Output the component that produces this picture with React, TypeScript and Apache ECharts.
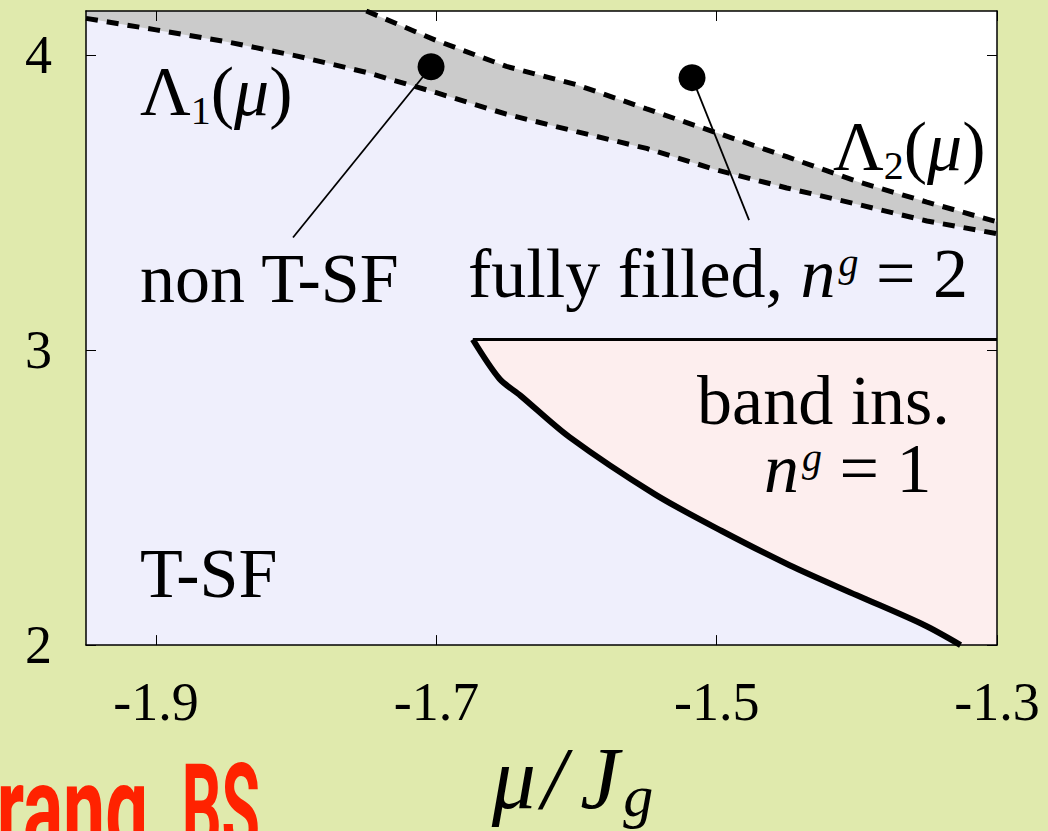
import React, { useEffect, useRef } from 'react';
import * as echarts from 'echarts';

// axis extents and ticks
const MU_MIN = -1.95;
const MU_MAX = -1.3;
const Y_MIN = 2;
const Y_MAX = 4.15;
const X_TICKS = [-1.9, -1.7, -1.5, -1.3];
const Y_TICKS = [2, 3, 4];

// lower boundary of the grey strip, Λ1(μ)
const LAMBDA1_MU = [-1.95, -1.9, -1.85, -1.8, -1.75, -1.7, -1.65, -1.6, -1.55, -1.5, -1.45, -1.4, -1.35, -1.3];
const LAMBDA1 = [4.125, 4.086, 4.046, 3.998, 3.942, 3.873, 3.8, 3.741, 3.684, 3.611, 3.55, 3.495, 3.438, 3.395];

// upper boundary of the grey strip, Λ2(μ)
const LAMBDA2_MU = [-1.75, -1.7, -1.65, -1.6, -1.55, -1.5, -1.45, -1.4, -1.35, -1.3];
const LAMBDA2 = [4.15, 4.05, 3.962, 3.9, 3.818, 3.737, 3.656, 3.572, 3.502, 3.435];

// band-insulator phase boundary
const BAND_MU = [-1.674, -1.655, -1.64, -1.605, -1.544, -1.496, -1.448, -1.4, -1.352, -1.326];
const BAND_Y = [3.036, 2.903, 2.846, 2.705, 2.511, 2.386, 2.271, 2.169, 2.068, 2.0];
const BAND_TOP = 3.036;

// marked points and the lines leading to their labels
const DOT_MU = [-1.7038, -1.5176];
const DOT_Y = [3.961, 3.924];
const POINTER_END_MU = [-1.8023, -1.4769];
const POINTER_END_Y = [3.382, 3.441];

// region labels (anchored at left end of the baseline); runs are {style|text}
const LABEL_MU = [-1.9115, -1.9115, -1.6774, -1.417, -1.514, -1.4662, -1.9115];
const LABEL_Y = [3.798, 3.162, 3.179, 3.612, 2.749, 2.518, 2.163];
const LABEL_TEXT = [
  '{r|Λ}{sub|1}{r|(}{i|μ}{r|)}',
  '{r|non T-SF}',
  '{r|fully filled, }{i|n}{sup|g}{r| = 2}',
  '{r|Λ}{sub|2}{r|(}{i|μ}{r|)}',
  '{r|band ins.}',
  '{i|n}{sup|g}{r| = 1}',
  '{r|T-SF}',
];

const SERIF = '"Liberation Serif", "Times New Roman", serif';
const PAGE_BG = '#e0eaad';
const INK = '#000000';

// run styles: font size, italic, baseline shift (px, downwards) and left gap
const RUN_STYLE: Record<string, { size: number; italic: boolean; shift: number; gap: number }> = {
  r: { size: 70, italic: false, shift: 0, gap: 0 },
  i: { size: 70, italic: true, shift: 0, gap: 0 },
  sub: { size: 40, italic: false, shift: 9, gap: 0 },
  sup: { size: 40, italic: true, shift: -21, gap: 3 },
};

let measureCtx: CanvasRenderingContext2D | null = null;
function measure(text: string, font: string): number {
  if (!measureCtx) measureCtx = document.createElement('canvas').getContext('2d');
  if (!measureCtx) return text.length * 30;
  measureCtx.font = font;
  return measureCtx.measureText(text).width;
}

function runFont(key: string): string {
  const s = RUN_STYLE[key];
  return `${s.italic ? 'italic ' : ''}${s.size}px ${SERIF}`;
}

function buildLabel(markup: string) {
  const children: any[] = [];
  let cursor = 0;
  const re = /\{(\w+)\|([^}]*)\}/g;
  let m: RegExpExecArray | null;
  while ((m = re.exec(markup))) {
    const key = m[1];
    const text = m[2];
    const s = RUN_STYLE[key];
    const font = runFont(key);
    cursor += s.gap;
    children.push({
      type: 'text',
      x: cursor,
      y: s.shift - 0.3375 * s.size,
      style: { text, font, fill: INK, align: 'left', verticalAlign: 'middle' },
    });
    cursor += measure(text, font);
  }
  return children;
}

const frameLine = { show: true, onZero: false, lineStyle: { color: INK, width: 1.5 } };
const tickStyle = { inside: true, length: 10, lineStyle: { color: INK, width: 1 } };
const dashed = { color: INK, width: 5, type: [12, 9] as number[], cap: 'butt' };

export default function App() {
  const ref = useRef<HTMLDivElement>(null);

  useEffect(() => {
    if (!ref.current) return;
    const chart = echarts.init(ref.current, undefined, { renderer: 'svg' });

    const option: any = {
      animation: false,
      backgroundColor: PAGE_BG,
      color: [INK],
      grid: {
        left: 86,
        right: 51,
        top: 11,
        bottom: 185,
        show: true,
        backgroundColor: '#efeffc',
        borderWidth: 0,
      },
      xAxis: [
        {
          type: 'value',
          min: MU_MIN,
          max: MU_MAX,
          position: 'bottom',
          z: 5,
          axisLine: frameLine,
          axisTick: { ...tickStyle, customValues: X_TICKS },
          axisLabel: {
            customValues: X_TICKS,
            fontFamily: SERIF,
            fontSize: 54,
            color: INK,
            margin: 30,
          },
          splitLine: { show: false },
          name: '{m|μ}{sl|/}{j|J}{s|g}',
          nameLocation: 'middle',
          nameGap: 76,
          nameTextStyle: {
            padding: [0, 0, 0, 62],
            rich: {
              m: { fontFamily: SERIF, fontStyle: 'italic', fontSize: 88, lineHeight: 100, color: INK, padding: [0, 6, 0, 0] },
              sl: { fontFamily: SERIF, fontStyle: 'italic', fontSize: 88, lineHeight: 100, color: INK, padding: [0, 14, 0, 0] },
              j: { fontFamily: SERIF, fontStyle: 'italic', fontSize: 88, lineHeight: 100, color: INK, padding: [0, 4, 0, 0] },
              s: { fontFamily: SERIF, fontStyle: 'italic', fontSize: 60, color: INK, padding: [36, 0, 0, 0] },
            },
          },
        },
        {
          type: 'value',
          min: MU_MIN,
          max: MU_MAX,
          position: 'top',
          z: 5,
          axisLine: frameLine,
          axisTick: { ...tickStyle, customValues: X_TICKS },
          axisLabel: { show: false },
          splitLine: { show: false },
        },
      ],
      yAxis: [
        {
          type: 'value',
          min: Y_MIN,
          max: Y_MAX,
          position: 'left',
          z: 5,
          axisLine: frameLine,
          axisTick: { ...tickStyle, customValues: Y_TICKS },
          axisLabel: {
            customValues: Y_TICKS,
            fontFamily: SERIF,
            fontSize: 54,
            color: INK,
            margin: 34,
          },
          splitLine: { show: false },
        },
        {
          type: 'value',
          min: Y_MIN,
          max: Y_MAX,
          position: 'right',
          z: 5,
          axisLine: frameLine,
          axisTick: { ...tickStyle, customValues: Y_TICKS },
          axisLabel: { show: false },
          splitLine: { show: false },
        },
      ],
      series: [
        {
          name: 'Λ1',
          type: 'line',
          data: LAMBDA1_MU.map((x, i) => [x, LAMBDA1[i]]),
          symbol: 'none',
          lineStyle: dashed,
          areaStyle: { color: '#cbcbcb', opacity: 1, origin: 'end' },
          z: 2,
          silent: true,
        },
        {
          name: 'Λ2',
          type: 'line',
          data: LAMBDA2_MU.map((x, i) => [x, LAMBDA2[i]]),
          symbol: 'none',
          lineStyle: dashed,
          areaStyle: { color: '#ffffff', opacity: 1, origin: 'end' },
          z: 3,
          silent: true,
        },
        {
          name: 'band insulator',
          type: 'custom',
          data: [[BAND_MU[0], BAND_Y[0]]],
          encode: { x: 0, y: 1 },
          z: 3,
          silent: true,
          renderItem: (_params: any, api: any) => {
            const pts = BAND_MU.map((x, i) => api.coord([x, BAND_Y[i]]));
            pts.push(api.coord([MU_MAX, Y_MIN]));
            pts.push(api.coord([MU_MAX, BAND_TOP]));
            return { type: 'polygon', shape: { points: pts }, style: { fill: '#fdeeee' } };
          },
        },
        {
          name: 'band top',
          type: 'line',
          data: [[BAND_MU[0], BAND_TOP], [MU_MAX, BAND_TOP]],
          symbol: 'none',
          lineStyle: { color: INK, width: 3 },
          z: 4,
          silent: true,
        },
        {
          name: 'band edge',
          type: 'line',
          data: BAND_MU.map((x, i) => [x, BAND_Y[i]]),
          symbol: 'none',
          smooth: 0.3,
          lineStyle: { color: INK, width: 6, join: 'round' },
          z: 4,
          silent: true,
        },
        ...DOT_MU.map((x, i) => ({
          name: 'pointer' + i,
          type: 'line',
          data: [[x, DOT_Y[i]], [POINTER_END_MU[i], POINTER_END_Y[i]]],
          symbol: 'none',
          lineStyle: { color: INK, width: 1.8 },
          z: 6,
          silent: true,
        })),
        {
          name: 'points',
          type: 'scatter',
          data: DOT_MU.map((x, i) => [x, DOT_Y[i]]),
          symbol: 'circle',
          symbolSize: 27,
          itemStyle: { color: INK, opacity: 1 },
          z: 7,
          silent: true,
        },
        {
          name: 'labels',
          type: 'custom',
          data: LABEL_MU.map((x, i) => [x, LABEL_Y[i]]),
          encode: { x: 0, y: 1 },
          itemStyle: { color: INK },
          z: 8,
          silent: true,
          clip: false,
          renderItem: (params: any, api: any) => {
            const i = params.dataIndex;
            const p = api.coord([LABEL_MU[i], LABEL_Y[i]]);
            return { type: 'group', x: p[0], y: p[1], children: buildLabel(LABEL_TEXT[i]) };
          },
        },
      ],
      graphic: [
        {
          type: 'text',
          x: 148,
          y: 809,
          scaleX: 0.6,
          silent: true,
          style: { text: 'rang', fill: '#ff2200', font: 'bold 125px Roboto, sans-serif', align: 'right', verticalAlign: 'middle' },
        },
        {
          type: 'text',
          x: 260,
          y: 809,
          scaleX: 0.5,
          silent: true,
          style: { text: 'BS', fill: '#ff2200', font: 'bold 125px Roboto, sans-serif', align: 'right', verticalAlign: 'middle' },
        },
      ],
    };

    chart.setOption(option);
    return () => chart.dispose();
  }, []);

  return (
    <div
      ref={ref}
      style={{ position: 'absolute', left: 0, top: 0, width: 1048, height: 831, background: PAGE_BG, overflow: 'hidden' }}
    />
  );
}
